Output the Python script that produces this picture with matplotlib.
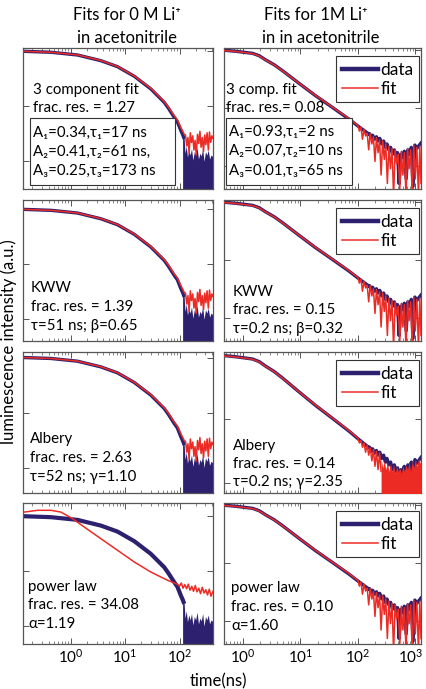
import matplotlib
matplotlib.use("Agg")
import matplotlib.pyplot as plt
from matplotlib.ticker import NullLocator, LogLocator
from matplotlib.patches import Rectangle
from matplotlib.transforms import ScaledTranslation

plt.rcParams['font.family'] = ['Lato', 'DejaVu Sans']

# ---- data (time in ns, normalized intensity) ----
# 0 M Li+ : measured decay (smooth part) and noisy tail
t_0M = [0.134, 0.437, 1.34, 3.6, 7.28, 14.8, 29.7, 52.4, 63.1, 80, 91.2, 106, 115, 122]
I_0M = [1.0, 0.96, 0.857, 0.675, 0.525, 0.351, 0.207, 0.118, 0.091, 0.063, 0.0525, 0.036, 0.030, 0.0254]
t_0M_tail = [114, 118, 122, 126, 133, 140, 148, 157, 166, 176, 187, 198, 210, 223, 237, 251,
             266, 282, 300, 318, 337, 357, 379, 412]
I_0M_tail = [0.031, 0.028, 0.0254, 0.014, 0.019, 0.012, 0.016, 0.013, 0.017, 0.0105, 0.015, 0.013,
             0.018, 0.011, 0.014, 0.0125, 0.017, 0.010, 0.015, 0.013, 0.016, 0.011, 0.013, 0.012]

# 0 M fits (3 component / KWW / Albery look the same at this scale)
t_fit_0M = [0.134, 0.437, 1.34, 3.6, 7.28, 14.8, 29.7, 52.4, 63.1, 80, 91.2, 106, 115, 122,
            129, 136, 143, 150, 158, 166, 175, 184, 193, 203, 214, 225, 237, 249, 262, 276,
            290, 305, 321, 338, 355, 374, 393, 412]
I_fit_0M = [1.0, 0.96, 0.86, 0.68, 0.53, 0.355, 0.212, 0.122, 0.096, 0.067, 0.057, 0.041, 0.035, 0.031,
            0.030, 0.019, 0.027, 0.014, 0.033, 0.022, 0.029, 0.016, 0.024, 0.013, 0.031, 0.021,
            0.035, 0.018, 0.027, 0.015, 0.030, 0.020, 0.033, 0.016, 0.034, 0.022, 0.029, 0.026]
t_pow_0M = [0.134, 0.248, 0.435, 0.664, 1.09, 1.78, 3.6, 7.28, 14.8, 29.7, 60.3, 91.9, 100, 108,
            116, 125, 135, 145, 156, 168, 181, 195, 210, 226, 243, 262, 282, 304, 327, 352, 379, 412]
I_pow_0M = [1.18, 1.28, 1.28, 1.19, 0.90, 0.637, 0.39, 0.24, 0.147, 0.0966, 0.0684, 0.0578, 0.053,
            0.061, 0.049, 0.057, 0.048, 0.058, 0.045, 0.053, 0.043, 0.055, 0.042, 0.049, 0.039,
            0.051, 0.040, 0.046, 0.037, 0.047, 0.035, 0.043]

# 1 M Li+ : measured decay
t_1M = [0.433, 0.757, 1.47, 1.92, 2.51, 3.49, 4.88, 9.46, 18.4, 35.8, 69.7, 104, 155,
        160, 170, 180, 195, 210, 225, 240, 260, 280, 300, 320, 345, 370, 400, 430, 460, 490,
        520, 560, 600, 640, 690, 740, 790, 850, 910, 980, 1050, 1250]
I_1M = [1.0, 0.951, 0.877, 0.798, 0.673, 0.558, 0.441, 0.267, 0.163, 0.103, 0.0646, 0.0476, 0.0356,
        0.036, 0.031, 0.034, 0.029, 0.032, 0.027, 0.030, 0.024, 0.027, 0.021, 0.024, 0.019, 0.021,
        0.016, 0.019, 0.015, 0.017, 0.005, 0.016, 0.014, 0.018, 0.006, 0.019, 0.016, 0.021,
        0.0045, 0.023, 0.020, 0.025]

# 1 M fits: smooth part + noisy tail
t_fit_1M = [0.433, 0.757, 1.47, 1.92, 2.51, 3.49, 4.88, 9.46, 18.4, 35.8, 69.7,
            100, 106, 113, 120, 128, 136, 145, 154, 164, 175, 186, 198, 210, 224, 238, 253,
            270, 287, 305, 325, 346, 368, 392, 417, 444, 472, 502, 535, 569, 605, 644, 686,
            730, 776, 826, 879, 935, 995, 1059, 1130, 1190, 1250]
I_fit_1M = [0.99, 0.945, 0.87, 0.79, 0.67, 0.555, 0.44, 0.268, 0.165, 0.104, 0.066,
            0.050, 0.040, 0.047, 0.029, 0.043, 0.033, 0.037, 0.019, 0.036, 0.024, 0.032, 0.012,
            0.031, 0.017, 0.028, 0.007, 0.027, 0.013, 0.024, 0.005, 0.022, 0.009, 0.020, 0.003,
            0.019, 0.011, 0.016, 0.004, 0.018, 0.007, 0.017, 0.003, 0.020, 0.009, 0.019, 0.003,
            0.023, 0.006, 0.021, 0.003, 0.022, 0.005]
# Albery fit for 1 M ends in a solid block
t_alb_1M = [0.433, 0.757, 1.47, 1.92, 2.51, 3.49, 4.88, 9.46, 18.4, 35.8, 69.7,
            100, 106, 113, 120, 128, 136, 145, 154, 164, 175, 186, 198, 210, 224, 238, 253]
I_alb_1M = [0.99, 0.945, 0.87, 0.79, 0.67, 0.555, 0.44, 0.268, 0.165, 0.104, 0.066,
            0.050, 0.042, 0.046, 0.036, 0.042, 0.030, 0.039, 0.027, 0.035, 0.022, 0.033, 0.018,
            0.031, 0.016, 0.029, 0.015]
t_alb_block = [253, 270, 287, 305, 325, 346, 368, 392, 417, 444, 472, 502, 535, 569, 605, 644,
               686, 730, 776, 826, 879, 935, 995, 1059, 1130, 1250]
I_alb_block = [0.024, 0.017, 0.022, 0.016, 0.021, 0.015, 0.020, 0.015, 0.019, 0.014, 0.018, 0.015,
               0.017, 0.014, 0.018, 0.015, 0.019, 0.016, 0.021, 0.015, 0.022, 0.017, 0.023, 0.018,
               0.024, 0.019]

titles_left = ['Fits for 0 M Li⁺', 'in acetonitrile']
titles_right = ['Fits for 1M Li⁺', 'in in acetonitrile']
notes_left = [['3 component fit', 'frac. res. = 1.27'],
              ['KWW', 'frac. res. = 1.39', 'τ=51 ns; β=0.65'],
              ['Albery', 'frac. res. = 2.63', 'τ=52 ns; γ=1.10'],
              ['power law', 'frac. res. = 34.08', 'α=1.19']]
notes_right = [['3 comp. fit', 'frac. res.= 0.08'],
               ['KWW', 'frac. res. = 0.15', 'τ=0.2 ns; β=0.32'],
               ['Albery', 'frac. res. = 0.14', 'τ=0.2 ns; γ=2.35'],
               ['power law', 'frac. res. = 0.10', 'α=1.60']]
box_left = ['A₁=0.34,τ₁=17 ns', 'A₂=0.41,τ₂=61 ns,', 'A₃=0.25,τ₃=173 ns']
box_right = ['A₁=0.93,τ₁=2 ns', 'A₂=0.07,τ₂=10 ns', 'A₃=0.01,τ₃=65 ns']

DATA_C = '#2c206f'
FIT_C = '#ec2b25'
FLOOR = 1e-4

W, H = 426, 689
fig = plt.figure(figsize=(W / 100, H / 100), dpi=100)

cols = {'L': (23, 190), 'R': (224, 197)}
tops = [48, 200, 352, 503]
PH = 141
ylims_L = [(0.00313, 1.148), (0.00404, 1.479), (0.00344, 1.259), (0.00474, 1.738)]
ylims_R = [(0.00402, 1.084), (0.00402, 1.084), (0.00686, 1.13), (0.00402, 1.084)]
# baselines of the note lines (pixels)
note_pos_L = [(33, [94, 112]), (31, [292, 311, 330]), (30, [443, 462, 481]), (28, [591, 609, 628])]
note_pos_R = [(226, [94, 112]), (233, [296, 314, 333]), (233, [450, 468, 486]), (231, [592, 611, 630])]

FS = 10.8


def make_ax(col, row):
    x0, w = cols[col]
    top = tops[row]
    ax = fig.add_axes([x0 / W, 1 - (top + PH) / H, w / W, PH / H])
    ax.set_xscale('log')
    ax.set_yscale('log')
    for s in ax.spines.values():
        s.set_color('#555555')
        s.set_linewidth(0.9)
    ax.tick_params(which='both', direction='in', top=True, right=True, color='#555555',
                   labelleft=False, labelsize=11, pad=3)
    ax.tick_params(which='major', length=4, width=0.7)
    ax.tick_params(which='minor', length=2, width=0.5)
    ax.yaxis.set_minor_locator(NullLocator())
    ax.xaxis.set_major_locator(LogLocator(base=10, numticks=12))
    if row < 3:
        ax.tick_params(labelbottom=False)
    return ax


def px_text(ax, col, row, px, py, s, **kw):
    x0, w = cols[col]
    ax.text((px - x0) / w, 1 - (py - tops[row]) / PH, s, transform=ax.transAxes,
            va='baseline', ha='left', fontsize=FS, zorder=6, **kw)


def px_box(ax, col, row, px0, px1, py0, py1):
    x0, w = cols[col]
    r = Rectangle(((px0 - x0) / w, 1 - (py1 - tops[row]) / PH), (px1 - px0) / w, (py1 - py0) / PH,
                  transform=ax.transAxes, facecolor='white', edgecolor='#333333', linewidth=0.8, zorder=5)
    ax.add_patch(r)


# ---- left column: 0 M ----
for row in range(4):
    ax = make_ax('L', row)
    ax.fill_between(t_0M_tail, FLOOR, I_0M_tail, color=DATA_C, lw=0, zorder=2)
    ax.plot(t_0M, I_0M, color=DATA_C, lw=3.0 if row == 3 else 2.4, solid_capstyle='butt', zorder=2)
    if row < 3:
        ax.plot(t_fit_0M, I_fit_0M, color=FIT_C, lw=1.1, zorder=3)
    else:
        ax.plot(t_pow_0M, I_pow_0M, color=FIT_C, lw=1.1, zorder=3)
    ax.set_xlim(0.134, 412)
    ax.set_ylim(*ylims_L[row])
    px, ys = note_pos_L[row]
    for s, py in zip(notes_left[row], ys):
        px_text(ax, 'L', row, px, py, s)
    if row == 0:
        px_box(ax, 'L', 0, 30, 175, 118, 185)
        for s, py in zip(box_left, [137, 156, 175]):
            px_text(ax, 'L', 0, 33, py, s)

# ---- right column: 1 M ----
for row in range(4):
    ax = make_ax('R', row)
    ax.plot(t_1M, I_1M, color=DATA_C, lw=2.4, label='data', zorder=2)
    if row == 2:
        ax.plot(t_alb_1M, I_alb_1M, color=FIT_C, lw=1.1, label='fit', zorder=3)
        ax.fill_between(t_alb_block, FLOOR, I_alb_block, color=FIT_C, lw=0, zorder=3)
    else:
        ax.plot(t_fit_1M, I_fit_1M, color=FIT_C, lw=1.1, label='fit', zorder=3)
    ax.set_xlim(0.47, 1250)
    ax.set_ylim(*ylims_R[row])
    px, ys = note_pos_R[row]
    for s, py in zip(notes_right[row], ys):
        px_text(ax, 'R', row, px, py, s)
    if row == 0:
        px_box(ax, 'R', 0, 226, 352, 118, 185)
        for s, py in zip(box_right, [136, 155, 175]):
            px_text(ax, 'R', 0, 229, py, s)
    leg = ax.legend(loc='upper right', bbox_to_anchor=(0.99, 0.94), borderaxespad=0,
                    fontsize=12.5, handlelength=2.1, handletextpad=0.15, borderpad=0.3,
                    labelspacing=0.2, fancybox=False, framealpha=1)
    for h in leg.get_lines()[:1]:
        h.set_linewidth(3.2)
    leg.get_frame().set_edgecolor('#333333')
    leg.get_frame().set_linewidth(0.8)
    leg.set_zorder(7)
ax_br = ax

# ---- figure labels ----
fig.text(127 / W, 1 - 20 / H, titles_left[0], ha='center', va='baseline', fontsize=12)
fig.text(127 / W, 1 - 43 / H, titles_left[1], ha='center', va='baseline', fontsize=12)
fig.text(316 / W, 1 - 20 / H, titles_right[0], ha='center', va='baseline', fontsize=12)
fig.text(321 / W, 1 - 43 / H, titles_right[1], ha='center', va='baseline', fontsize=12)
fig.text(9 / W, 1 - 342 / H, 'luminescence intensity (a.u.)', rotation=90,
         ha='center', va='center', fontsize=12)
fig.text(218 / W, 1 - 673 / H, 'time(ns)', ha='center', va='top', fontsize=12)

# nudge the last tick label (10^3) so it stays inside the figure
fig.canvas.draw()
for tick in ax_br.xaxis.get_major_ticks():
    if abs(tick.get_loc() - 1000) < 1:
        tick.label1.set_transform(tick.label1.get_transform()
                                  + ScaledTranslation(-0.045, 0, fig.dpi_scale_trans))

fig.savefig('out.png', dpi=100)
